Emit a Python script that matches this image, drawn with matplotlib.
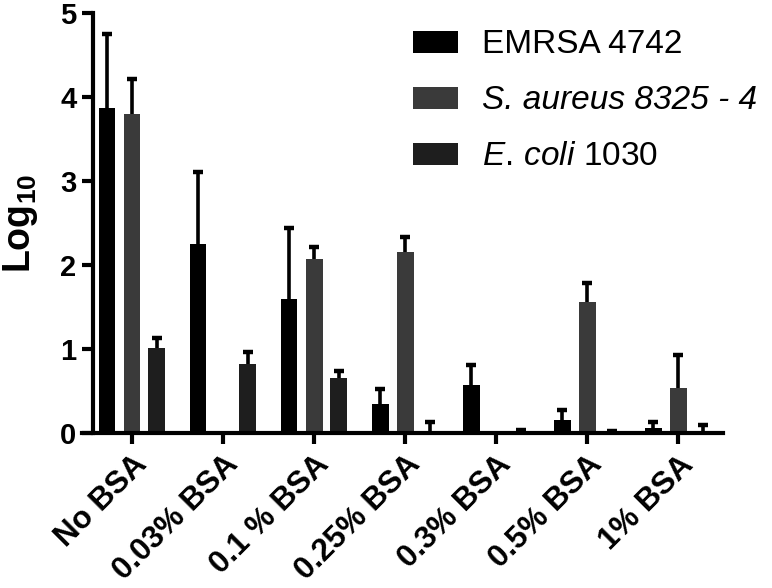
import numpy as np
import matplotlib
matplotlib.use("Agg")
import matplotlib.pyplot as plt

plt.rcParams['font.family'] = ['Liberation Sans', 'DejaVu Sans']
plt.rcParams['mathtext.fontset'] = 'custom'
plt.rcParams['mathtext.rm'] = 'Liberation Sans'
plt.rcParams['mathtext.it'] = 'Liberation Sans:italic'
plt.rcParams['mathtext.bf'] = 'Liberation Sans:bold'

categories = ["No BSA", "0.03% BSA", "0.1 % BSA", "0.25% BSA", "0.3% BSA", "0.5% BSA", "1% BSA"]
emrsa = [3.87, 2.25, 1.60, 0.34, 0.57, 0.15, 0.06]
emrsa_err = [0.88, 0.86, 0.84, 0.18, 0.24, 0.12, 0.07]
saureus = [3.80, 0.0, 2.07, 2.15, 0.0, 1.56, 0.53]
saureus_err = [0.41, np.nan, 0.14, 0.18, np.nan, 0.22, 0.40]
ecoli = [1.01, 0.82, 0.65, 0.0, 0.0, 0.0, 0.01]
ecoli_err = [0.12, 0.14, 0.09, 0.13, 0.03, 0.02, 0.08]

series = [
    ("EMRSA 4742", emrsa, emrsa_err, "#000000", -0.275),
    ("S. aureus 8325 - 4", saureus, saureus_err, "#3a3a3a", 0.0),
    (r"$\mathit{E.\,coli}$ 1030", ecoli, ecoli_err, "#1e1e1e", 0.27),
]

fig = plt.figure(figsize=(7.72, 5.88), dpi=100)
ax = fig.add_axes([82 / 772, 1 - 433 / 588, (723 - 82) / 772, 420 / 588])

x = np.arange(len(categories))
w = 0.183
for name, vals, err, col, off in series:
    vals = np.array(vals)
    err = np.array(err)
    ax.bar(x + off, vals, w, color=col, label=name, zorder=2)
    # upward-only error bars: stem + single cap on top
    ax.vlines(x + off, vals, vals + err, color="black", lw=2.6, zorder=3)
    ax.plot(x + off, vals + err, ls="none", marker="_", ms=7, mew=3.2,
            color="black", zorder=3)

ax.set_xlim(-0.55, 6.49)
ax.set_ylim(0, 5)
ax.set_yticks([0, 1, 2, 3, 4, 5])
ax.set_xticks(x)
ax.set_xticklabels(categories, rotation=45, ha="right", rotation_mode="anchor",
                   fontsize=22.5, fontweight="bold")

ax.spines["top"].set_visible(False)
ax.spines["right"].set_visible(False)
ax.spines["left"].set_position(("data", -0.43))
ax.spines["left"].set_linewidth(3)
ax.spines["bottom"].set_linewidth(3)
ax.tick_params(axis="both", direction="out", length=8, width=3)
ax.tick_params(axis="y", pad=4, labelsize=21)
ax.tick_params(axis="x", pad=4)
for t in ax.get_yticklabels():
    t.set_fontweight("bold")

ax.set_ylabel(r"Log$_{\mathbf{10}}$", fontsize=27, fontweight="bold")
ax.yaxis.set_label_coords(-0.066, 0.5)

leg = ax.legend(loc="upper left", bbox_to_anchor=(400 / 772, 1 - 16 / 588),
                bbox_transform=fig.transFigure, frameon=False, fontsize=24,
                handlelength=1.35, handleheight=0.65, handletextpad=0.7,
                labelspacing=0.75, borderaxespad=0)
leg.get_texts()[1].set_style("italic")

fig.savefig("out.png", dpi=100)
